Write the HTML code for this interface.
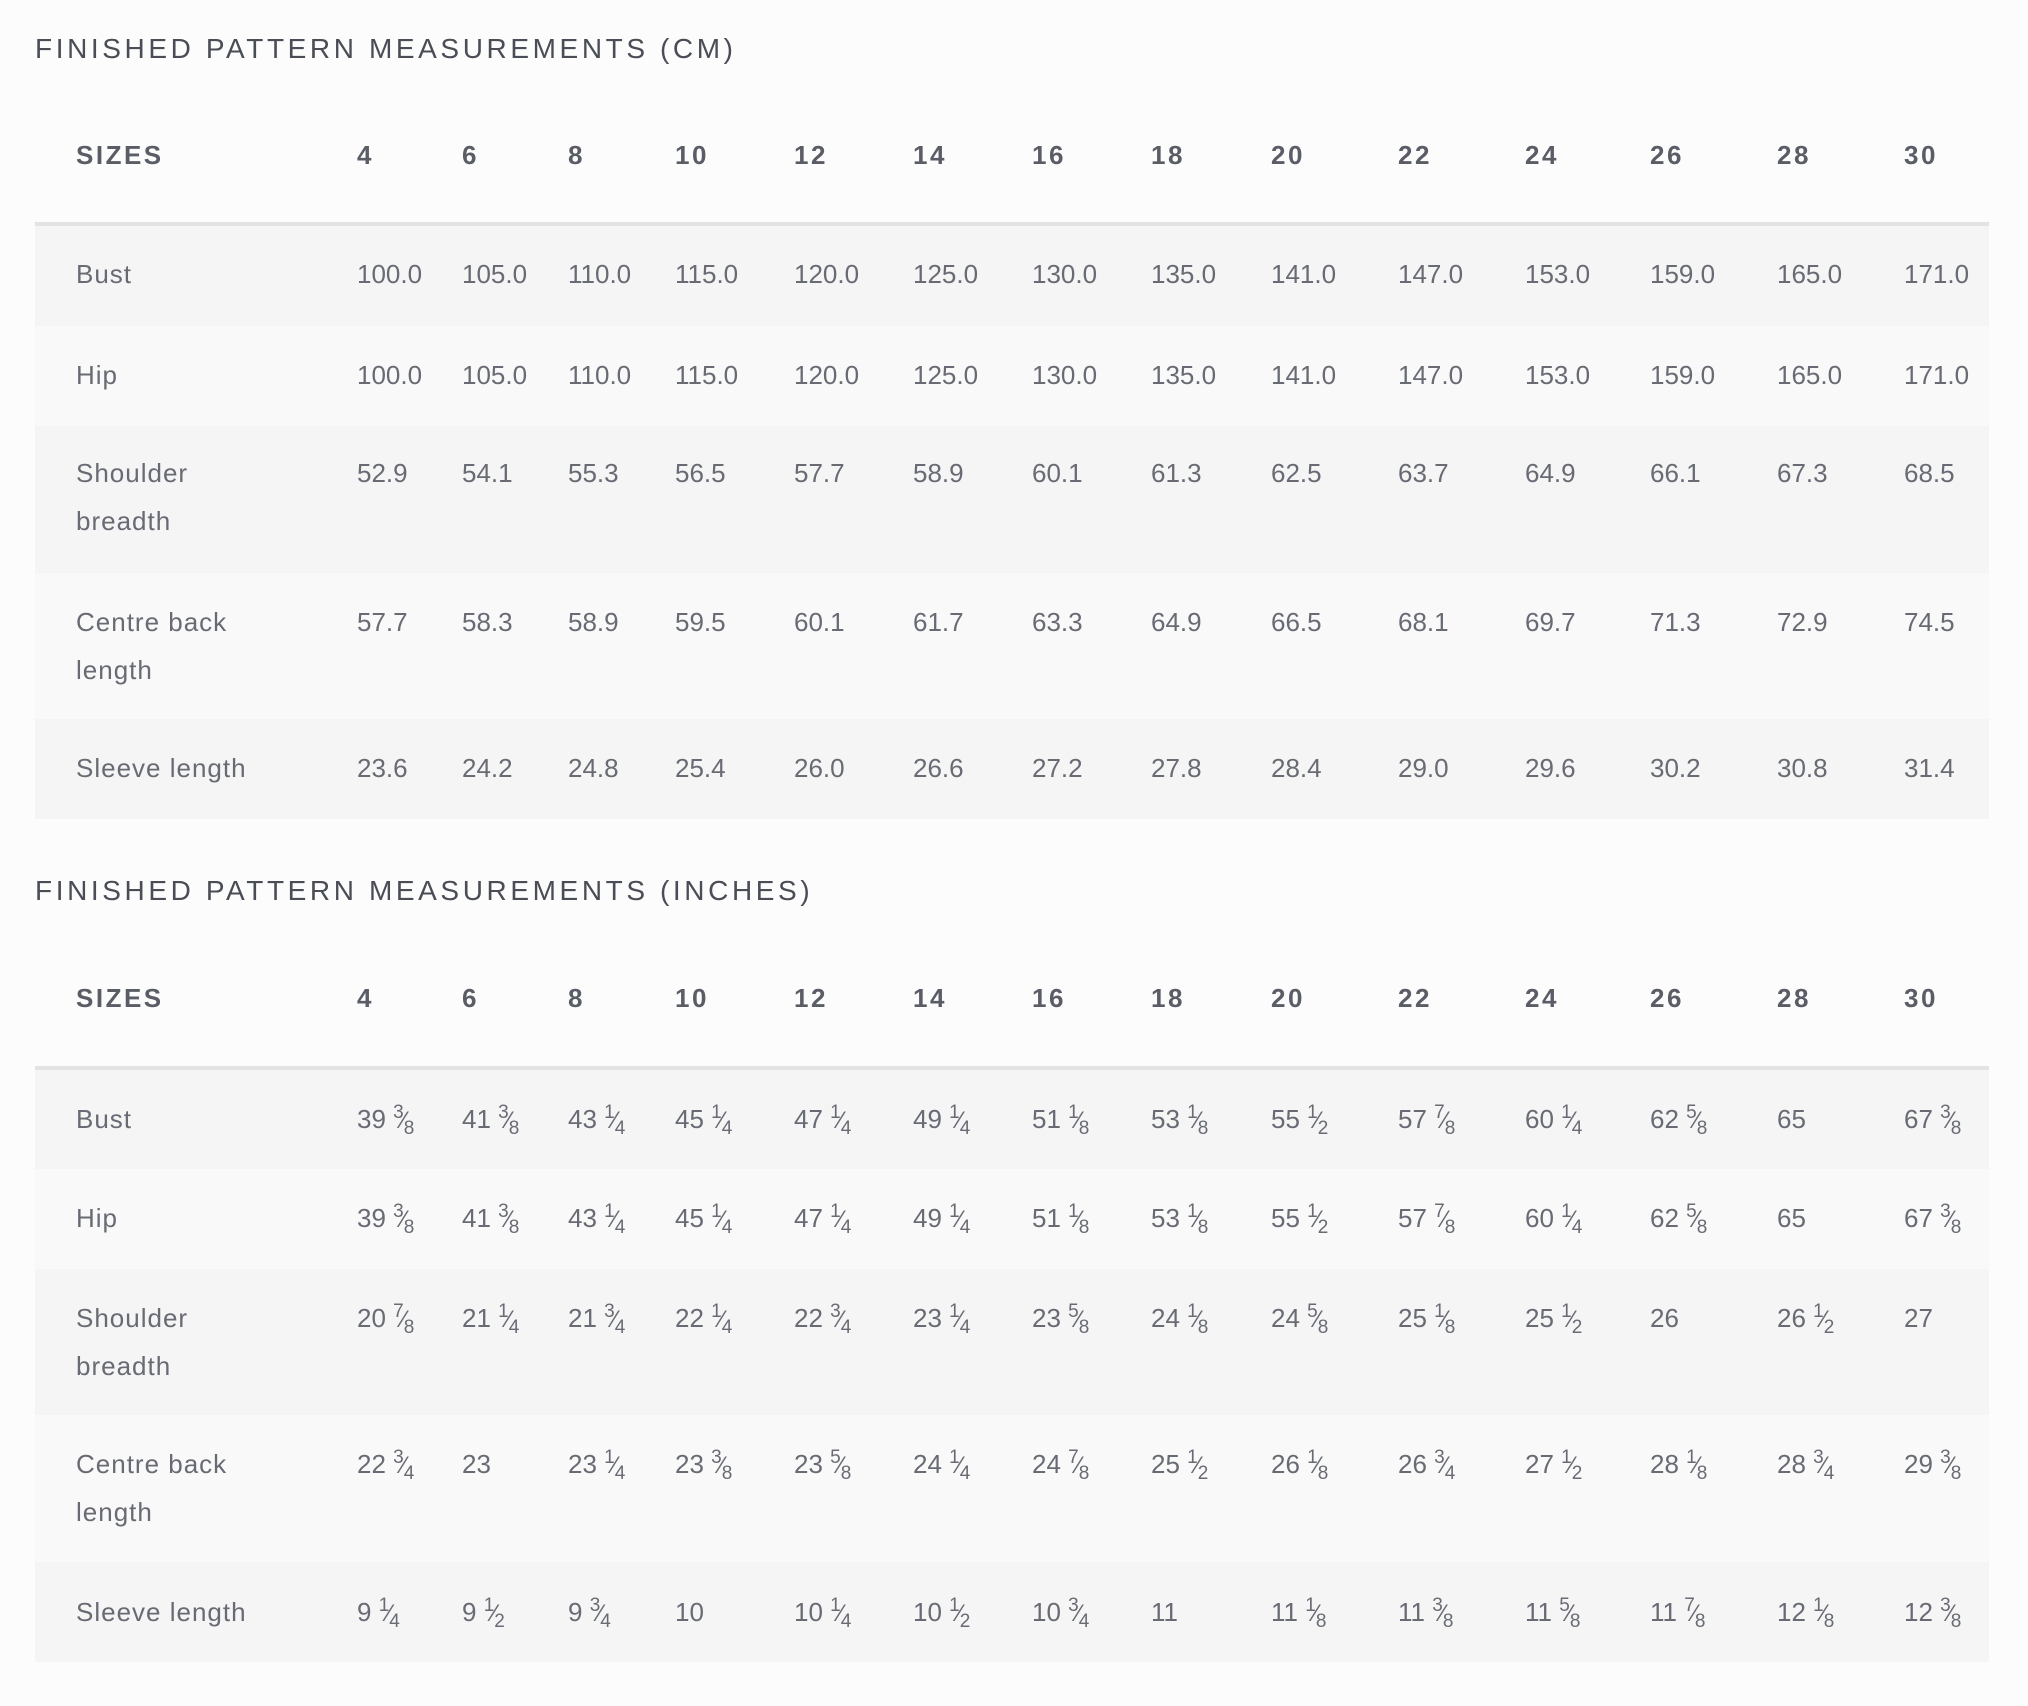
<!DOCTYPE html>
<html><head><meta charset="utf-8"><style>
html,body{margin:0;padding:0;background:#fcfcfc;}
body{width:2028px;height:1706px;position:relative;overflow:hidden;font-family:"Liberation Sans",sans-serif;color:#686b73;}
.t{position:absolute;left:35px;font-size:28px;letter-spacing:3.6px;color:#4a4d55;line-height:40px;}
.bg{position:absolute;left:35px;width:1954px;}
.g{background:#f5f5f5;}.l{background:#f9f9f9;}
.hl{position:absolute;left:35px;width:1954px;height:4px;background:#e3e3e3;}
.r{position:absolute;left:0;width:2028px;height:48px;line-height:48px;font-size:26px;white-space:nowrap;}
.r span{position:absolute;}
.h{font-weight:bold;color:#5a5d66;letter-spacing:2.5px;}
.c0{left:76px}.c1{left:357px}.c2{left:462px}.c3{left:568px}.c4{left:675px}.c5{left:794px}.c6{left:913px}.c7{left:1032px}.c8{left:1151px}.c9{left:1271px}.c10{left:1398px}.c11{left:1525px}.c12{left:1650px}.c13{left:1777px}.c14{left:1904px}
.r.lab span.c0{letter-spacing:1px}
sup,sub{font-size:19px;line-height:0;position:relative;vertical-align:baseline;}
sup{top:-10px;}sub{top:6px;}
i{font-style:normal;font-size:24px;margin:0 -2px;}
</style></head><body>

<div class="t" style="top:29px">FINISHED PATTERN MEASUREMENTS (CM)</div>
<div class="r h" style="top:131px"><span class="c0">SIZES</span><span class="c1">4</span><span class="c2">6</span><span class="c3">8</span><span class="c4">10</span><span class="c5">12</span><span class="c6">14</span><span class="c7">16</span><span class="c8">18</span><span class="c9">20</span><span class="c10">22</span><span class="c11">24</span><span class="c12">26</span><span class="c13">28</span><span class="c14">30</span></div>
<div class="hl" style="top:222px"></div>
<div class="bg g" style="top:226px;height:100px"></div>
<div class="bg l" style="top:326px;height:100px"></div>
<div class="bg g" style="top:426px;height:147px"></div>
<div class="bg l" style="top:573px;height:146px"></div>
<div class="bg g" style="top:719px;height:100px"></div>

<div class="r lab" style="top:250px"><span class="c0">Bust</span><span class="c1">100.0</span><span class="c2">105.0</span><span class="c3">110.0</span><span class="c4">115.0</span><span class="c5">120.0</span><span class="c6">125.0</span><span class="c7">130.0</span><span class="c8">135.0</span><span class="c9">141.0</span><span class="c10">147.0</span><span class="c11">153.0</span><span class="c12">159.0</span><span class="c13">165.0</span><span class="c14">171.0</span></div>
<div class="r lab" style="top:351px"><span class="c0">Hip</span><span class="c1">100.0</span><span class="c2">105.0</span><span class="c3">110.0</span><span class="c4">115.0</span><span class="c5">120.0</span><span class="c6">125.0</span><span class="c7">130.0</span><span class="c8">135.0</span><span class="c9">141.0</span><span class="c10">147.0</span><span class="c11">153.0</span><span class="c12">159.0</span><span class="c13">165.0</span><span class="c14">171.0</span></div>
<div class="r lab" style="top:449px"><span class="c0">Shoulder</span><span class="c1">52.9</span><span class="c2">54.1</span><span class="c3">55.3</span><span class="c4">56.5</span><span class="c5">57.7</span><span class="c6">58.9</span><span class="c7">60.1</span><span class="c8">61.3</span><span class="c9">62.5</span><span class="c10">63.7</span><span class="c11">64.9</span><span class="c12">66.1</span><span class="c13">67.3</span><span class="c14">68.5</span></div>
<div class="r lab" style="top:497px"><span class="c0">breadth</span></div>
<div class="r lab" style="top:598px"><span class="c0">Centre back</span><span class="c1">57.7</span><span class="c2">58.3</span><span class="c3">58.9</span><span class="c4">59.5</span><span class="c5">60.1</span><span class="c6">61.7</span><span class="c7">63.3</span><span class="c8">64.9</span><span class="c9">66.5</span><span class="c10">68.1</span><span class="c11">69.7</span><span class="c12">71.3</span><span class="c13">72.9</span><span class="c14">74.5</span></div>
<div class="r lab" style="top:646px"><span class="c0">length</span></div>
<div class="r lab" style="top:744px"><span class="c0">Sleeve length</span><span class="c1">23.6</span><span class="c2">24.2</span><span class="c3">24.8</span><span class="c4">25.4</span><span class="c5">26.0</span><span class="c6">26.6</span><span class="c7">27.2</span><span class="c8">27.8</span><span class="c9">28.4</span><span class="c10">29.0</span><span class="c11">29.6</span><span class="c12">30.2</span><span class="c13">30.8</span><span class="c14">31.4</span></div>

<div class="t" style="top:871px">FINISHED PATTERN MEASUREMENTS (INCHES)</div>
<div class="r h" style="top:974px"><span class="c0">SIZES</span><span class="c1">4</span><span class="c2">6</span><span class="c3">8</span><span class="c4">10</span><span class="c5">12</span><span class="c6">14</span><span class="c7">16</span><span class="c8">18</span><span class="c9">20</span><span class="c10">22</span><span class="c11">24</span><span class="c12">26</span><span class="c13">28</span><span class="c14">30</span></div>
<div class="hl" style="top:1066px"></div>
<div class="bg g" style="top:1070px;height:99px"></div>
<div class="bg l" style="top:1169px;height:100px"></div>
<div class="bg g" style="top:1269px;height:146px"></div>
<div class="bg l" style="top:1415px;height:147px"></div>
<div class="bg g" style="top:1562px;height:100px"></div>

<div class="r lab" style="top:1095px"><span class="c0">Bust</span><span class="c1">39 <sup>3</sup><i>⁄</i><sub>8</sub></span><span class="c2">41 <sup>3</sup><i>⁄</i><sub>8</sub></span><span class="c3">43 <sup>1</sup><i>⁄</i><sub>4</sub></span><span class="c4">45 <sup>1</sup><i>⁄</i><sub>4</sub></span><span class="c5">47 <sup>1</sup><i>⁄</i><sub>4</sub></span><span class="c6">49 <sup>1</sup><i>⁄</i><sub>4</sub></span><span class="c7">51 <sup>1</sup><i>⁄</i><sub>8</sub></span><span class="c8">53 <sup>1</sup><i>⁄</i><sub>8</sub></span><span class="c9">55 <sup>1</sup><i>⁄</i><sub>2</sub></span><span class="c10">57 <sup>7</sup><i>⁄</i><sub>8</sub></span><span class="c11">60 <sup>1</sup><i>⁄</i><sub>4</sub></span><span class="c12">62 <sup>5</sup><i>⁄</i><sub>8</sub></span><span class="c13">65</span><span class="c14">67 <sup>3</sup><i>⁄</i><sub>8</sub></span></div>
<div class="r lab" style="top:1194px"><span class="c0">Hip</span><span class="c1">39 <sup>3</sup><i>⁄</i><sub>8</sub></span><span class="c2">41 <sup>3</sup><i>⁄</i><sub>8</sub></span><span class="c3">43 <sup>1</sup><i>⁄</i><sub>4</sub></span><span class="c4">45 <sup>1</sup><i>⁄</i><sub>4</sub></span><span class="c5">47 <sup>1</sup><i>⁄</i><sub>4</sub></span><span class="c6">49 <sup>1</sup><i>⁄</i><sub>4</sub></span><span class="c7">51 <sup>1</sup><i>⁄</i><sub>8</sub></span><span class="c8">53 <sup>1</sup><i>⁄</i><sub>8</sub></span><span class="c9">55 <sup>1</sup><i>⁄</i><sub>2</sub></span><span class="c10">57 <sup>7</sup><i>⁄</i><sub>8</sub></span><span class="c11">60 <sup>1</sup><i>⁄</i><sub>4</sub></span><span class="c12">62 <sup>5</sup><i>⁄</i><sub>8</sub></span><span class="c13">65</span><span class="c14">67 <sup>3</sup><i>⁄</i><sub>8</sub></span></div>
<div class="r lab" style="top:1294px"><span class="c0">Shoulder</span><span class="c1">20 <sup>7</sup><i>⁄</i><sub>8</sub></span><span class="c2">21 <sup>1</sup><i>⁄</i><sub>4</sub></span><span class="c3">21 <sup>3</sup><i>⁄</i><sub>4</sub></span><span class="c4">22 <sup>1</sup><i>⁄</i><sub>4</sub></span><span class="c5">22 <sup>3</sup><i>⁄</i><sub>4</sub></span><span class="c6">23 <sup>1</sup><i>⁄</i><sub>4</sub></span><span class="c7">23 <sup>5</sup><i>⁄</i><sub>8</sub></span><span class="c8">24 <sup>1</sup><i>⁄</i><sub>8</sub></span><span class="c9">24 <sup>5</sup><i>⁄</i><sub>8</sub></span><span class="c10">25 <sup>1</sup><i>⁄</i><sub>8</sub></span><span class="c11">25 <sup>1</sup><i>⁄</i><sub>2</sub></span><span class="c12">26</span><span class="c13">26 <sup>1</sup><i>⁄</i><sub>2</sub></span><span class="c14">27</span></div>
<div class="r lab" style="top:1342px"><span class="c0">breadth</span></div>
<div class="r lab" style="top:1440px"><span class="c0">Centre back</span><span class="c1">22 <sup>3</sup><i>⁄</i><sub>4</sub></span><span class="c2">23</span><span class="c3">23 <sup>1</sup><i>⁄</i><sub>4</sub></span><span class="c4">23 <sup>3</sup><i>⁄</i><sub>8</sub></span><span class="c5">23 <sup>5</sup><i>⁄</i><sub>8</sub></span><span class="c6">24 <sup>1</sup><i>⁄</i><sub>4</sub></span><span class="c7">24 <sup>7</sup><i>⁄</i><sub>8</sub></span><span class="c8">25 <sup>1</sup><i>⁄</i><sub>2</sub></span><span class="c9">26 <sup>1</sup><i>⁄</i><sub>8</sub></span><span class="c10">26 <sup>3</sup><i>⁄</i><sub>4</sub></span><span class="c11">27 <sup>1</sup><i>⁄</i><sub>2</sub></span><span class="c12">28 <sup>1</sup><i>⁄</i><sub>8</sub></span><span class="c13">28 <sup>3</sup><i>⁄</i><sub>4</sub></span><span class="c14">29 <sup>3</sup><i>⁄</i><sub>8</sub></span></div>
<div class="r lab" style="top:1488px"><span class="c0">length</span></div>
<div class="r lab" style="top:1588px"><span class="c0">Sleeve length</span><span class="c1">9 <sup>1</sup><i>⁄</i><sub>4</sub></span><span class="c2">9 <sup>1</sup><i>⁄</i><sub>2</sub></span><span class="c3">9 <sup>3</sup><i>⁄</i><sub>4</sub></span><span class="c4">10</span><span class="c5">10 <sup>1</sup><i>⁄</i><sub>4</sub></span><span class="c6">10 <sup>1</sup><i>⁄</i><sub>2</sub></span><span class="c7">10 <sup>3</sup><i>⁄</i><sub>4</sub></span><span class="c8">11</span><span class="c9">11 <sup>1</sup><i>⁄</i><sub>8</sub></span><span class="c10">11 <sup>3</sup><i>⁄</i><sub>8</sub></span><span class="c11">11 <sup>5</sup><i>⁄</i><sub>8</sub></span><span class="c12">11 <sup>7</sup><i>⁄</i><sub>8</sub></span><span class="c13">12 <sup>1</sup><i>⁄</i><sub>8</sub></span><span class="c14">12 <sup>3</sup><i>⁄</i><sub>8</sub></span></div>

</body></html>
